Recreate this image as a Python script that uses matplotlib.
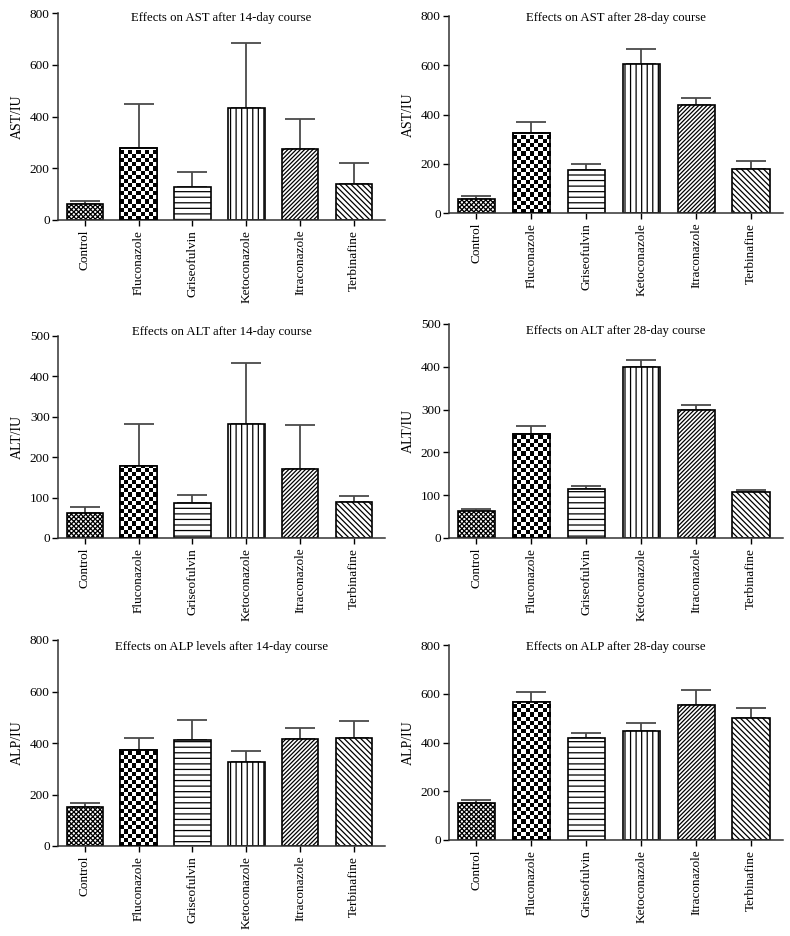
import numpy as np
import matplotlib
matplotlib.use("Agg")
import matplotlib.pyplot as plt

categories = ["Control", "Fluconazole", "Griseofulvin", "Ketoconazole", "Itraconazole", "Terbinafine"]

ast14_mean = [60, 277, 126, 432, 274, 138]
ast14_sd = [12, 171, 61, 252, 117, 84]
ast28_mean = [58, 323, 173, 607, 439, 178]
ast28_sd = [12, 47, 27, 59, 30, 34]
alt14_mean = [61, 179, 87, 283, 172, 89]
alt14_sd = [15, 104, 19, 151, 108, 14]
alt28_mean = [62, 244, 115, 400, 298, 107]
alt28_sd = [5, 17, 6, 15, 12, 4]
alp14_mean = [152, 371, 410, 326, 416, 421]
alp14_sd = [15, 49, 79, 44, 42, 65]
alp28_mean = [153, 568, 420, 446, 554, 499]
alp28_sd = [13, 38, 18, 36, 60, 41]

titles = ["Effects on AST after 14-day course", "Effects on AST after 28-day course",
          "Effects on ALT after 14-day course", "Effects on ALT after 28-day course",
          "Effects on ALP levels after 14-day course", "Effects on ALP after 28-day course"]
ylabels = ["AST/IU", "AST/IU", "ALT/IU", "ALT/IU", "ALP/IU", "ALP/IU"]
ymaxes = [800, 800, 500, 500, 800, 800]
yticks_list = [[0, 200, 400, 600, 800], [0, 200, 400, 600, 800],
               [0, 100, 200, 300, 400, 500], [0, 100, 200, 300, 400, 500],
               [0, 200, 400, 600, 800], [0, 200, 400, 600, 800]]
means = [ast14_mean, ast28_mean, alt14_mean, alt28_mean, alp14_mean, alp28_mean]
sds = [ast14_sd, ast28_sd, alt14_sd, alt28_sd, alp14_sd, alp28_sd]

plt.rcParams['font.family'] = ['Liberation Serif', 'DejaVu Serif']
plt.rcParams['hatch.linewidth'] = 0.9

W, H = 790, 936
fig = plt.figure(figsize=(W / 100, H / 100), dpi=100)

# axes boxes in pixels: (left, right, top, bottom)
boxes = [(58, 385, 13, 220), (449, 783, 16, 213),
         (58, 385, 336, 538), (449, 783, 324, 538),
         (58, 385, 640, 846), (449, 783, 645, 840)]
title_off = [5, 2, -4, 7, 7, 2]  # pixels below top

hatches = ['xxxxxxx', None, '---', '|||', '////////', '\\\\\\\\\\\\']

for i in range(6):
    l, r, t, b = boxes[i]
    ax = fig.add_axes([l / W, 1 - b / H, (r - l) / W, (b - t) / H])
    x = np.arange(len(categories))
    ax.set_xlim(-0.5, 5.58)
    ax.set_ylim(0, ymaxes[i])
    bars = ax.bar(x, means[i], width=0.68, color='white', edgecolor='black',
                  linewidth=1.2, zorder=2)
    for j, bar in enumerate(bars):
        if hatches[j]:
            bar.set_hatch(hatches[j])
    # checkerboard texture for Fluconazole bar
    bar = bars[1]
    x0 = bar.get_x()
    x1 = x0 + bar.get_width()
    h = bar.get_height()
    px_per_x = (r - l) / (5.58 + 0.5)
    px_per_y = (b - t) / ymaxes[i]
    ncol = max(1, int(round((x1 - x0) * px_per_x / 4.1)))
    nrow = max(1, int(round(h * px_per_y / 4.1)))
    yy, xx = np.mgrid[0:nrow, 0:ncol]
    checker = ((xx + yy) % 2).astype(float)
    im = ax.imshow(checker, cmap='gray', vmin=0, vmax=1, interpolation='nearest',
                   extent=(x0, x1, 0, nrow * 4.1 / px_per_y), origin='lower',
                   aspect='auto', zorder=2.5)
    im.set_clip_path(bar)
    ax.bar([x[1]], [means[i][1]], width=0.68, facecolor='none', edgecolor='black',
           linewidth=1.2, zorder=3)
    ax.errorbar(x, means[i], yerr=[np.zeros(6), sds[i]], fmt='none', ecolor='#4a4a4a',
                elinewidth=1.3, capsize=11, capthick=1.3, zorder=1)
    ax.set_xlim(-0.5, 5.58)
    ax.set_ylim(0, ymaxes[i])
    ax.set_yticks(yticks_list[i])
    ax.set_xticks(x)
    ax.set_xticklabels(categories, rotation=90, fontsize=9.5)
    ax.tick_params(axis='y', labelsize=9.5, length=4, width=1, pad=2)
    ax.tick_params(axis='x', length=4, width=1, pad=3)
    for s in ['top', 'right']:
        ax.spines[s].set_visible(False)
    for s in ['left', 'bottom']:
        ax.spines[s].set_linewidth(1.1)
        ax.spines[s].set_color('#333333')
    ax.set_ylabel(ylabels[i], fontsize=10, labelpad=4)
    ax.text(0.5, 1 - title_off[i] / (b - t), titles[i], transform=ax.transAxes,
            ha='center', va='center', fontsize=9.2)

fig.savefig("out.png", dpi=100)
